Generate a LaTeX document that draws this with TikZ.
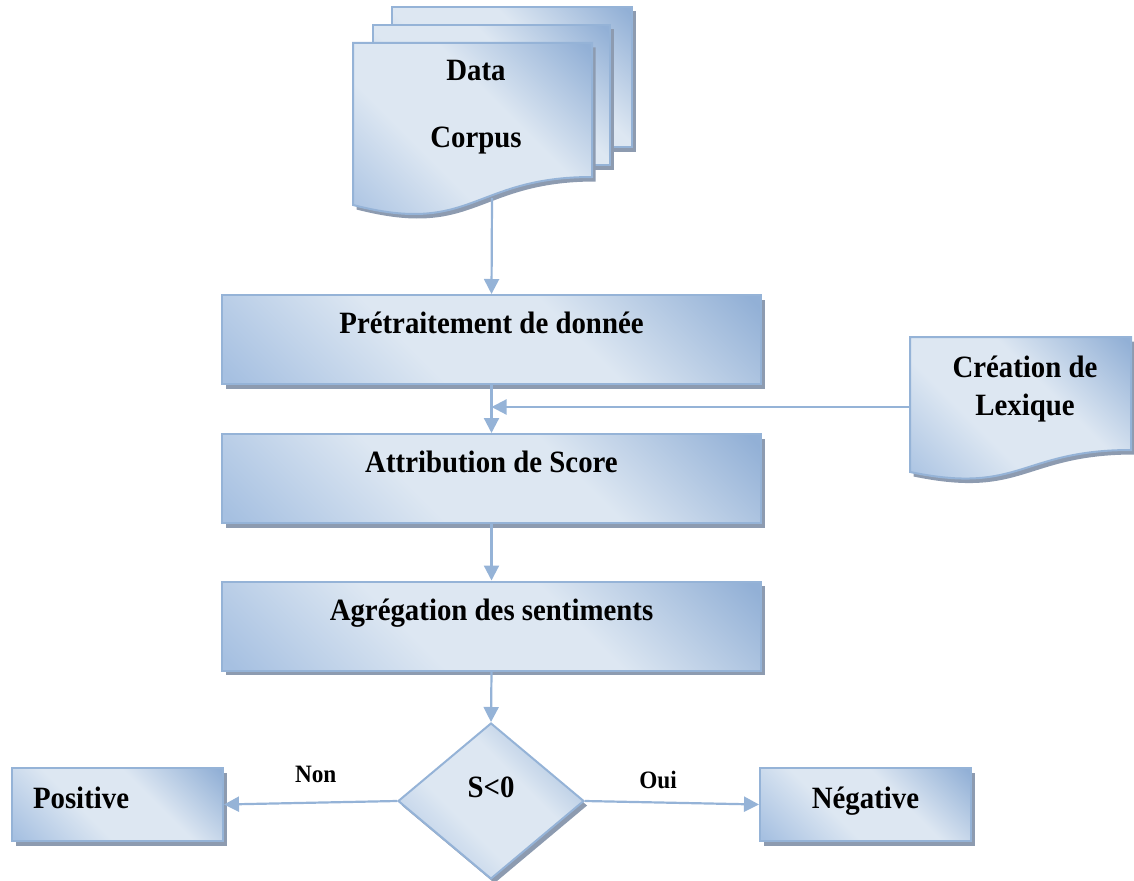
\documentclass[tikz,border=0pt]{standalone}
\usepackage{fontspec}
\setmainfont{Liberation Serif}[FakeStretch=0.93]
\usetikzlibrary{shapes.geometric, arrows.meta, shadows}

\definecolor{bdark}{RGB}{146,176,214}
\definecolor{bmid}{RGB}{166,192,225}
\definecolor{blight}{RGB}{221,231,242}
\definecolor{edgec}{RGB}{149,179,215}
\definecolor{shadowc}{RGB}{141,155,176}

% diagonal blue fill: darker towards the lower left and upper right corners
\pgfdeclarehorizontalshading{officeblue}{100bp}{color(0bp)=(bmid); color(16bp)=(bmid); color(40bp)=(blight); color(60bp)=(blight); color(84bp)=(bdark); color(100bp)=(bdark)}

\tikzset{
  flowfill/.style={draw=edgec, line width=2pt, shade, shading=officeblue, shading angle=45},
  pageshadow/.style={drop shadow={shadow xshift=3.5pt, shadow yshift=-4.5pt, fill=shadowc, opacity=1}},
  stepbox/.style={rectangle, flowfill, pageshadow, minimum width=539pt, minimum height=89pt,
    inner sep=0pt, text height=20pt, text depth=31.4pt},
  endbox/.style={rectangle, flowfill, pageshadow, minimum width=211pt, minimum height=73pt,
    inner sep=0pt, text height=20pt, text depth=12.4pt},
  decision/.style={diamond, flowfill, pageshadow, minimum width=186pt, minimum height=156pt,
    inner sep=0pt, text height=20pt, text depth=27.4pt},
  conn/.style={draw=edgec, line width=2.2pt, -{Triangle[length=15pt,width=15pt]}},
  lbl/.style={font=\fontsize{25}{30}\selectfont\bfseries, inner sep=0pt},
}

\begin{document}
\begin{tikzpicture}[x=1pt, y=-1pt, font=\fontsize{31}{35}\selectfont\bfseries]
\useasboundingbox (0,0) rectangle (1134,880);

% stacked pages of the corpus
\path[flowfill, pageshadow] (392,7) rectangle (632,147);
\path[flowfill, pageshadow] (373,25) rectangle (610,165);
\path[flowfill, pageshadow] (353,43) -- (592,43) -- (592,177)
  .. controls (472.5,177) and (472.5,236) .. (353,205) -- cycle;
\node (corpus) [align=center] at (476,107) {Data\\[32pt]Corpus};

% lexicon document
\path[flowfill, pageshadow] (910,337) -- (1131,337) -- (1131,450)
  .. controls (1020.5,450) and (1020.5,495) .. (910,472) -- cycle;
\node (lex) [align=center] at (1025,389) {Création de\\[3pt]Lexique};

% processing steps
\node[stepbox] (pre) at (491.5,339.5) {Prétraitement de donnée};
\node[stepbox] (att) at (491.5,478.5) {Attribution de Score};
\node[stepbox] (agg) at (491.5,626) {Agrégation des sentiments};
\node[decision] (dec) at (491,801) {S<0};
\node[endbox, text width=169pt, align=left, inner xsep=21pt] (pos) at (117.5,804.5) {Positive};
\node[endbox] (neg) at (865.5,804.5) {Négative};

% connectors
\coordinate (docfoot) at (492,198);
\coordinate (lexin) at (910,407);
\draw[conn] (docfoot) -- (pre.north);
\draw[conn] (pre.south) -- (att.north);
\draw[conn] (lexin) -- (lexin -| pre.south);
\draw[conn] (att.south) -- (agg.north);
\draw[conn] (agg.south) -- (dec.north);
\draw[conn] (dec.west) -- node[lbl, pos=0.47, yshift=28pt] {Non} (pos.east);
\draw[conn] (dec.east) -- node[lbl, pos=0.42, yshift=23pt] {Oui} (neg.west);
\end{tikzpicture}
\end{document}
